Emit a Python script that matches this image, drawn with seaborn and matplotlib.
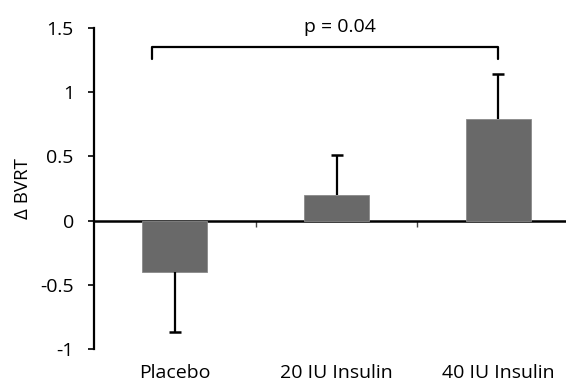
import matplotlib
matplotlib.use("Agg")
import matplotlib.pyplot as plt
import seaborn as sns
import pandas as pd

categories = ["Placebo", "20 IU Insulin", "40 IU Insulin"]
values = [-0.40, 0.20, 0.79]
err_low = [0.465, 0.0, 0.0]
err_high = [0.0, 0.31, 0.355]
yticks = [-1, -0.5, 0, 0.5, 1, 1.5]
ytick_labels = ["-1", "-0.5", "0", "0.5", "1", "1.5"]
p_text = "p = 0.04"
bracket_y = 1.355
bracket_leg = 0.10
bracket_x = [-0.14, 2.0]

sns.set_style("white")
plt.rcParams["font.family"] = ["Open Sans", "DejaVu Sans"]

fig = plt.figure(figsize=(5.66, 3.85), dpi=100)
ax = fig.add_axes([94 / 566, (385 - 349) / 385, (579 - 94) / 566, (349 - 28) / 385])

df = pd.DataFrame({"cat": categories, "val": values})
sns.barplot(data=df, x="cat", y="val", color="#696969", saturation=1, width=0.40,
            edgecolor="#8a8a8a", linewidth=0.6, ax=ax, zorder=2)

# one-sided error bars (cap only at the outer end)
for i, (v, lo, hi) in enumerate(zip(values, err_low, err_high)):
    end = v - lo if lo > 0 else v + hi
    ax.vlines(i, v, end, color="black", lw=1.6, zorder=3)
    ax.plot([i], [end], marker="_", markersize=8, markeredgewidth=1.8,
            color="black", zorder=3)

ax.set_xlim(-0.5, 2.5)
ax.set_ylim(-1, 1.5)
ax.set_yticks(yticks)
ax.set_yticklabels(ytick_labels)
ax.tick_params(axis="y", direction="out", length=4.5, width=1.2, color="black",
               labelsize=14, pad=10, left=True, labelcolor="black")
ax.set_ylabel("Δ BVRT", fontsize=13.5, color="black")
ax.yaxis.set_label_coords(-0.128, 0.5)
ax.set_xlabel("")

ax.set_xticks(range(len(categories)))
ax.set_xticklabels(categories)
ax.tick_params(axis="x", length=0, labelsize=14, pad=11, labelcolor="black")

for s in ["top", "right", "bottom"]:
    ax.spines[s].set_visible(False)
ax.spines["left"].set_color("black")
ax.spines["left"].set_linewidth(1.6)

# zero line with boundary ticks
sec = ax.secondary_xaxis(0.4)
sec.set_xticks([0.5, 1.5])
sec.set_xticklabels(["", ""])
sec.tick_params(axis="x", direction="out", length=4.5, width=1.0, color="#444444")
sec.spines["bottom"].set_color("black")
sec.spines["bottom"].set_linewidth(1.8)
sec.spines["top"].set_visible(False)

# significance bracket
ax.plot([bracket_x[0], bracket_x[0], bracket_x[1], bracket_x[1]],
        [bracket_y - bracket_leg, bracket_y, bracket_y, bracket_y - bracket_leg],
        color="black", lw=1.6, clip_on=False)
ax.text(1.02, 1.51, p_text, ha="center", va="center", fontsize=14, color="black")

fig.savefig("out.png", dpi=100)
